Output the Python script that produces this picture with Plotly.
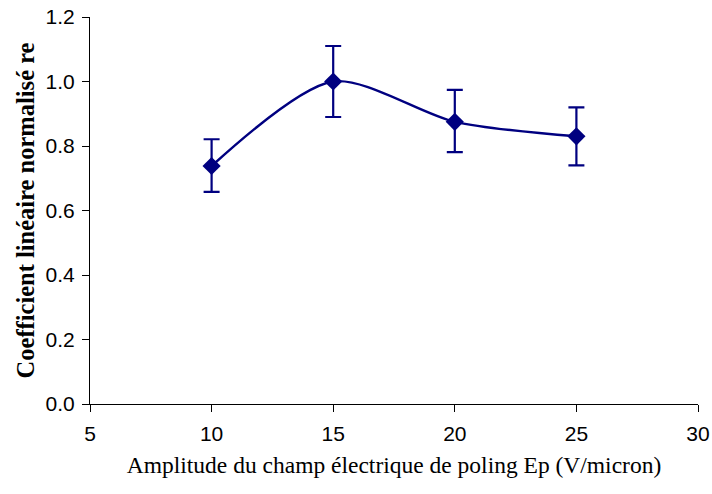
import plotly.graph_objects as go

x_vals = [10, 15, 20, 25]
y_vals = [0.738, 1.0, 0.875, 0.83]
err_plus = [0.083, 0.11, 0.099, 0.09]
err_minus = [0.080, 0.11, 0.094, 0.09]
x_ticks = [5, 10, 15, 20, 25, 30]
y_ticks = [0.0, 0.2, 0.4, 0.6, 0.8, 1.0, 1.2]

navy = "#000080"

fig = go.Figure()
fig.add_trace(go.Scatter(
    x=x_vals, y=y_vals,
    mode="lines+markers",
    line=dict(color=navy, width=2.4, shape="spline", smoothing=0.8),
    marker=dict(symbol="diamond", size=14, color=navy),
    error_y=dict(type="data", symmetric=False, array=err_plus, arrayminus=err_minus,
                 color=navy, thickness=2.2, width=8),
    showlegend=False,
))

fig.update_layout(
    width=712, height=494,
    margin=dict(l=90, r=14, t=17, b=90),
    plot_bgcolor="white", paper_bgcolor="white",
    font=dict(family="Liberation Sans, Arial", size=21, color="black"),
)
fig.update_xaxes(
    range=[5, 30], tickvals=x_ticks, ticktext=[str(v) for v in x_ticks],
    showgrid=False, zeroline=False, showline=True, linecolor="black", linewidth=1,
    ticks="outside", ticklen=7, tickcolor="black", automargin=False,
    ticklabelstandoff=4,
    title=dict(text="Amplitude du champ électrique de poling Ep (V/micron)",
               font=dict(family="Liberation Serif", size=23.5), standoff=12),
)
fig.update_yaxes(
    range=[0, 1.2], tickvals=y_ticks, ticktext=[f"{v:.1f}" for v in y_ticks],
    showgrid=False, zeroline=False, showline=True, linecolor="black", linewidth=1,
    ticks="outside", ticklen=7, tickcolor="black", automargin=False,
    ticklabelstandoff=3,
    title=dict(text="<b>Coefficient linéaire normalisé re</b>",
               font=dict(family="Liberation Serif", size=24.5), standoff=4),
)

fig.write_html(
    "out.html",
    config={"displayModeBar": False},
    post_script="document.documentElement.style.overflow='hidden';"
                "document.body.style.margin='0';document.body.style.overflow='hidden';",
)
